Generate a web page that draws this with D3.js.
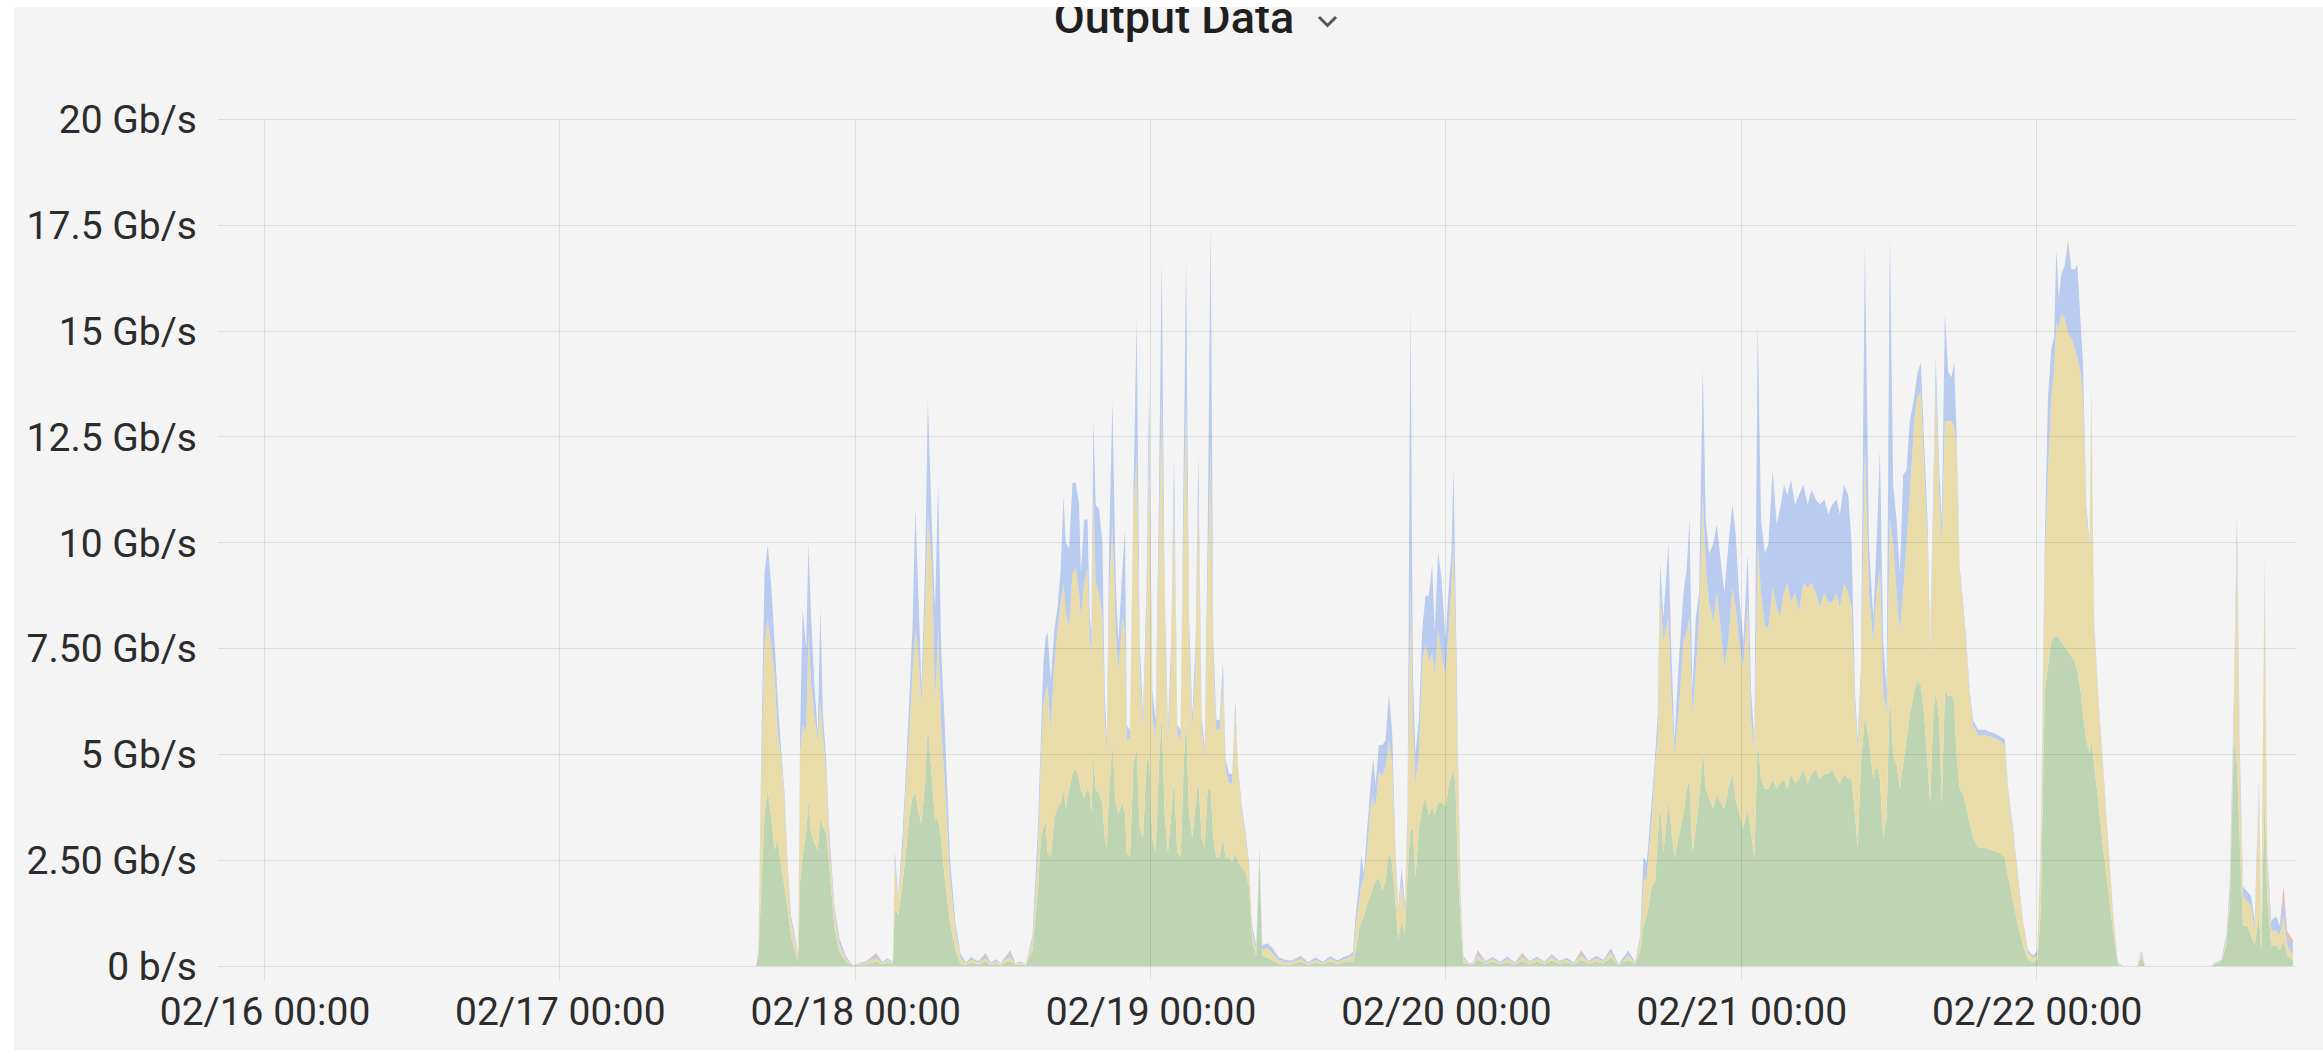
<!DOCTYPE html>
<html><head><meta charset="utf-8">
<script src="https://cdn.jsdelivr.net/npm/d3@7"></script>
<style>
html,body{margin:0;padding:0;background:#ffffff;}
svg{display:block;}
</style></head>
<body>
<svg id="chart" width="2323" height="1060"></svg>
<script>
// ---------------- DATA (hours since 02/16 00:00, values in Gb/s) ----------------
const title = "Output Data";
const seriesNames = ["green", "yellow", "blue", "orange"];
const yTickValues = [0, 2.5, 5, 7.5, 10, 12.5, 15, 17.5, 20];
const yTickLabels = ["0 b/s", "2.50 Gb/s", "5 Gb/s", "7.50 Gb/s", "10 Gb/s", "12.5 Gb/s", "15 Gb/s", "17.5 Gb/s", "20 Gb/s"];
const xTickHours = [0, 24, 48, 72, 96, 120, 144];
const xTickLabels = ["02/16 00:00", "02/17 00:00", "02/18 00:00", "02/19 00:00", "02/20 00:00", "02/21 00:00", "02/22 00:00"];

const hours = [
  // 02/17 evening
  39.95, 40.14, 40.36, 40.63, 40.89, 41.17, 41.44, 41.70, 41.98, 42.25, 42.52, 42.79, 43.06, 43.33,
  43.41, 43.52, 43.73, 44.01, 44.20, 44.41, 44.68, 44.95, 45.17, 45.36, 45.63, 45.90, 46.31, 46.71, 47.26, 47.79,
  48.9, 49.7, 50.2, 50.6,
  // 02/18 early
  51.06, 51.21, 51.49, 51.85, 52.13, 52.39, 52.65, 52.89, 53.09, 53.38,
  53.67, 53.90, 54.25, 54.48, 54.74, 54.98, 55.27, 55.70, 56.14, 56.57,
  57.0, 57.4, 58.0, 58.6, 59.0, 59.46, 59.8, 60.2, 60.6, 61.0, 61.5, 61.86,
  // 02/18 afternoon - 02/19
  62.40, 62.81, 63.08, 63.27, 63.48, 63.62, 63.89, 64.16, 64.43, 64.70,
  64.92, 65.11, 65.38, 65.65, 65.92, 66.19, 66.33, 66.60, 66.87, 67.06,
  67.19, 67.35, 67.54, 67.81, 68.08, 68.27, 68.44, 68.63, 68.90, 69.17,
  69.38, 69.71, 69.92, 70.06, 70.33, 70.60, 70.87, 71.11, 71.38, 71.66,
  71.87, 72.14, 72.41, 72.68, 72.90, 73.14, 73.41, 73.68, 73.90, 74.17,
  74.44, 74.66, 74.88, 75.12, 75.39, 75.66, 75.88, 76.15, 76.39, 76.63,
  76.88, 77.09, 77.34, 77.61, 77.88, 78.09, 78.37, 78.64, 78.88, 79.12,
  79.39, 79.72, 79.99, 80.26, 80.58, 80.85, 81.07, 81.48, 81.88, 82.42,
  82.97,
  83.5, 84.2, 84.8, 85.4, 86.0, 86.6, 87.2, 87.7, 88.17,
  // 02/19 evening
  88.44, 88.65, 88.92, 89.11, 89.33, 89.60, 89.87, 90.09, 90.28, 90.55,
  90.82, 91.09, 91.36, 91.63, 91.90, 92.12, 92.39, 92.66, 92.88, 93.12,
  93.31, 93.52, 93.80, 94.07, 94.34, 94.61, 94.88, 95.09, 95.36, 95.63,
  95.96, 96.23, 96.45, 96.61, 96.77, 96.99, 97.20, 97.42, 97.85,
  98.2, 98.58, 99.21, 99.8, 100.4, 101.0, 101.6, 102.2, 102.8, 103.4,
  104.0, 104.6, 105.2, 105.8, 106.4, 107.0, 107.6, 108.2, 108.8, 109.4, 110.02,
  // 02/20 afternoon - 02/22
  110.83, 111.37, 111.78, 112.05, 112.32, 112.73, 113.00, 113.21, 113.40, 113.67,
  114.08, 114.29, 114.57, 114.89, 115.30, 115.57, 115.78, 116.03, 116.30, 116.57,
  116.87, 117.11, 117.38, 117.73, 118.00, 118.35, 118.62, 118.95, 119.27, 119.54,
  119.81, 120.17, 120.52, 120.79, 121.06, 121.33, 121.60, 121.92, 122.20, 122.55,
  122.87, 123.14, 123.47, 123.74, 124.04, 124.36, 124.68, 125.04, 125.39, 125.71,
  126.04, 126.39, 126.74, 127.07, 127.39, 127.74, 128.01, 128.34, 128.69, 128.96,
  129.23, 129.45, 129.72, 130.04, 130.37, 130.72, 130.99, 131.26, 131.53, 131.80,
  132.07, 132.34, 132.61, 132.88, 133.15, 133.42, 133.69, 134.05, 134.32, 134.59,
  134.86, 135.13, 135.34, 135.59, 135.80, 136.08, 136.29, 136.54, 136.81, 137.08,
  137.29, 137.48, 137.75, 138.02, 138.29, 138.56, 138.83, 139.24, 139.78, 140.32,
  140.86, 141.41, 141.68, 142.08, 142.49, 142.89, 143.30, 143.71, 144.06, 144.33,
  144.65, 144.92, 145.19, 145.41, 145.60, 145.79, 146.00, 146.28, 146.55, 146.82,
  147.09, 147.30, 147.57, 147.76, 148.03, 148.30, 148.44, 148.66, 148.98, 149.39,
  149.79, 150.20, 150.60, 151.01,
  // 02/22 afternoon
  152.2, 152.5, 152.8, 158.2, 158.46, 159.0, 159.41, 159.68, 160.03, 160.27,
  160.49, 160.76, 161.11, 161.44, 161.71, 162.06, 162.25, 162.52, 162.73, 163.06,
  163.46, 163.74, 164.06, 164.36, 164.82
];

const green = [
  0, 0.3, 1.8, 3.6, 4.16, 3.53, 2.74, 2.98, 2.35, 1.9, 1.3, 0.7, 0.38, 0.1,
  0.5, 2.0, 2.6, 3.14, 3.92, 3.14, 2.9, 2.74, 3.53, 3.3, 3.14, 2.35, 0.9, 0.35, 0.1, 0.02,
  0.05, 0.1, 0.04, 0.08,
  0.05, 1.37, 1.2, 1.96, 2.74, 3.53, 4.0, 4.09, 3.72, 3.35,
  4.35, 5.7, 4.35, 3.45, 3.45, 3.0, 2.09, 1.02, 0.38, 0.05,
  0.03, 0.08, 0.04, 0.1, 0.03, 0.06, 0.02, 0.08, 0.12, 0.03, 0.04, 0.01,
  0.37, 1.64, 3.03, 3.26, 3.38, 2.69, 2.57, 3.5, 3.73, 3.84,
  4.19, 3.73, 4.19, 4.54, 4.65, 4.42, 4.19, 3.96, 4.19, 4.07,
  3.61, 5.0, 4.19, 4.07, 3.84, 3.03, 2.8, 4.19, 5.23, 3.84,
  3.61, 3.84, 3.61, 2.69, 2.57, 4.77, 5.12, 3.26, 3.03, 4.77,
  5.0, 3.03, 2.69, 4.77, 5.93, 3.61, 2.69, 3.61, 4.42, 2.69,
  2.57, 4.54, 5.93, 3.61, 3.03, 3.84, 4.42, 3.03, 2.8, 4.19,
  4.19, 3.03, 2.57, 2.57, 3.03, 2.57, 2.57, 2.45, 2.69, 2.45,
  2.34, 2.22, 1.88, 0.6, 0.25, 2.57, 0.25, 0.2, 0.14, 0.05,
  0.02,
  0.05, 0.1, 0.03, 0.08, 0.04, 0.1, 0.05, 0.09, 0.12,
  0.07, 0.33, 0.85, 1.06, 1.16, 1.48, 1.68, 1.89, 2.0, 2.1,
  1.79, 2.0, 2.72, 2.41, 1.48, 0.64, 1.06, 0.75, 2.2, 3.24,
  3.24, 2.1, 3.24, 3.76, 3.97, 3.56, 3.76, 3.56, 3.87, 3.87,
  3.76, 4.28, 4.49, 4.7, 4.28, 2.2, 0.96, 0.07, 0.04,
  0.03, 0.15, 0.05, 0.1, 0.04, 0.09, 0.03, 0.12, 0.05, 0.1,
  0.04, 0.13, 0.05, 0.08, 0.04, 0.14, 0.05, 0.1, 0.06, 0.2, 0.02,
  0.14, 0.04, 0.37, 0.95, 1.18, 1.88, 1.99, 3.03, 3.84, 2.69,
  3.96, 3.26, 2.57, 3.03, 3.61, 4.19, 4.42, 2.69, 3.26, 3.96,
  5.12, 4.19, 3.96, 3.73, 4.07, 3.84, 3.73, 4.19, 4.54, 3.96,
  3.61, 3.26, 3.73, 3.15, 2.57, 5.35, 4.42, 4.19, 4.19, 4.42,
  4.19, 4.31, 4.42, 4.19, 4.54, 4.31, 4.42, 4.65, 4.31, 4.54,
  4.65, 4.42, 4.54, 4.54, 4.65, 4.42, 4.31, 4.54, 4.42, 4.42,
  3.61, 2.8, 4.77, 5.93, 5.35, 4.42, 4.77, 4.42, 3.03, 3.5,
  6.5, 5.0, 4.77, 4.19, 4.77, 5.35, 5.93, 6.5, 6.74, 6.62,
  5.93, 4.77, 3.84, 5.93, 6.5, 5.81, 3.84, 6.5, 6.39, 6.39,
  6.27, 5.0, 4.19, 4.07, 3.73, 3.38, 3.03, 2.8, 2.8, 2.74,
  2.69, 2.57, 2.11, 1.53, 0.95, 0.49, 0.14, 0.08, 0.14, 1.3,
  6.5, 7.08, 7.66, 7.78, 7.78, 7.78, 7.66, 7.55, 7.43, 7.31,
  7.2, 6.97, 6.5, 5.93, 5.35, 5.0, 5.35, 4.77, 3.96, 2.8,
  1.88, 0.83, 0.02, 0,
  0, 0.2, 0, 0, 0.05, 0.1, 0.49, 1.41, 5.35, 4.77,
  3.03, 0.95, 0.95, 0.72, 0.49, 1.18, 0.37, 4.19, 1.64, 0.49,
  0.49, 0.37, 0.6, 0.25, 0.14
];

const yellow = [
  0, 0.1, 2.7, 4.0, 4.01, 4.07, 4.16, 2.52, 2.55, 2.0, 0.9, 0.35, 0.27, 0.12,
  1.0, 3.0, 3.1, 2.36, 3.94, 3.54, 2.99, 2.6, 2.75, 2.2, 1.46, 0.5, 0.35, 0.15, 0.06, 0,
  0.03, 0.08, 0.03, 0.06,
  0.03, 1.09, 0.35, 0.78, 1.58, 1.97, 2.9, 3.88, 3.78, 2.82,
  4.07, 4.98, 4.98, 2.72, 4.52, 2.7, 2.26, 1.07, 0.45, 0.14,
  0.03, 0.07, 0.04, 0.08, 0.03, 0.05, 0.02, 0.07, 0.1, 0.02, 0.04, 0.01,
  0.23, 0.81, 1.74, 2.9, 3.12, 3.93, 3.01, 3.58, 4.17, 4.76,
  4.86, 4.63, 3.81, 4.74, 4.75, 4.4, 4.05, 5.09, 5.21, 3.59,
  3.82, 6.13, 4.86, 4.75, 4.4, 2.9, 2.2, 4.63, 5.21, 4.06,
  3.36, 4.4, 4.29, 2.66, 2.78, 5.9, 6.94, 3.82, 2.55, 3.47,
  7.29, 2.9, 2.66, 5.21, 7.52, 4.63, 2.66, 3.47, 6.71, 2.77,
  2.78, 5.44, 7.52, 4.05, 2.55, 3.24, 6.71, 2.55, 2.08, 4.63,
  8.1, 4.05, 3.01, 3.01, 3.71, 2.08, 1.74, 1.86, 3.35, 2.09,
  1.39, 0.81, 0.46, 0.23, 0.12, 0.12, 0.12, 0.23, 0.17, 0.09,
  0.06,
  0.04, 0.06, 0.03, 0.06, 0.03, 0.08, 0.04, 0.07, 0.08,
  0.16, 0.52, 0.63, 0.83, 0.94, 1.24, 2.08, 2.08, 1.76, 2.49,
  2.7, 2.7, 2.6, 2.39, 0.93, 0.63, 0.94, 0.52, 1.25, 5.72,
  2.6, 2.18, 1.77, 3.43, 3.64, 3.63, 3.64, 3.32, 4.05, 3.53,
  3.12, 3.64, 4.47, 5.3, 3.64, 2.08, 0.52, 0.11, 0.02,
  0.02, 0.1, 0.03, 0.06, 0.03, 0.07, 0.03, 0.08, 0.04, 0.07,
  0.03, 0.08, 0.04, 0.06, 0.03, 0.1, 0.04, 0.08, 0.05, 0.12, 0.01,
  0.11, 0.02, 0.23, 1.04, 0.92, 1.62, 2.78, 2.32, 4.98, 4.97,
  4.28, 3.24, 2.43, 2.9, 4.05, 3.71, 3.82, 3.24, 3.71, 4.28,
  6.01, 5.21, 4.63, 4.39, 4.75, 4.06, 3.35, 3.47, 4.4, 4.51,
  4.05, 3.82, 4.86, 2.66, 2.55, 4.63, 4.4, 3.81, 3.81, 4.52,
  4.28, 3.93, 4.4, 4.86, 4.05, 4.51, 3.94, 4.4, 4.63, 4.51,
  4.17, 4.05, 4.28, 4.05, 3.94, 4.4, 4.16, 4.51, 4.4, 4.05,
  2.55, 2.32, 1.97, 6.36, 3.47, 3.24, 4.05, 4.98, 3.47, 2.43,
  4.06, 4.98, 4.05, 3.71, 4.05, 4.63, 5.2, 6.37, 6.71, 6.94,
  5.78, 5.21, 3.59, 4.63, 7.3, 5.32, 6.14, 6.37, 6.48, 6.48,
  6.48, 7.29, 5.09, 4.4, 3.82, 3.01, 2.66, 2.66, 2.66, 2.67,
  2.66, 2.66, 1.96, 1.62, 1.04, 0.51, 0.17, 0.12, 0.11, 1.5,
  2.9, 4.63, 5.79, 6.25, 7.41, 7.29, 7.76, 7.75, 7.52, 7.53,
  7.41, 7.41, 7.53, 7.52, 5.32, 4.86, 8.1, 3.35, 2.43, 1.85,
  1.04, 0.41, 0.04, 0,
  0, 0.1, 0, 0, 0.02, 0.02, 0.11, 0.23, 0.58, 5.21,
  1.74, 0.69, 0.58, 0.69, 0.34, 3.01, 0.35, 5.09, 0.81, 0.34,
  0.34, 0.35, 0.58, 0.24, 0.11
];

const blue = [
  0, 0.05, 0.5, 1.7, 1.78, 1.4, 0.8, 0.8, 0.2, 0.2, 0.15, 0.12, 0.13, 0.08,
  0.1, 0.5, 2.75, 2.0, 2.09, 1.57, 0.79, 0.16, 2.21, 0.5, 0.3, 0.3, 0.15, 0.15, 0.06, 0,
  0.04, 0.07, 0.03, 0.04,
  0.02, 0.26, 0.09, 0.4, 0.39, 0.78, 1.1, 2.85, 1.64, 0.43,
  0.91, 2.67, 0.9, 2.25, 3.43, 1.81, 1.35, 0.46, 0.19, 0.09,
  0.02, 0.06, 0.03, 0.08, 0.02, 0.05, 0.02, 0.06, 0.1, 0.02, 0.03, 0.01,
  0.12, 0.58, 0.58, 0.92, 1.28, 1.28, 1.16, 0.82, 0.57, 0.8,
  2.05, 1.64, 1.86, 2.14, 2.02, 2.08, 1.04, 1.5, 1.15, 0.58,
  0.47, 1.8, 1.85, 1.98, 1.76, 0.57, 0.35, 1.18, 2.89, 1.15,
  0.69, 1.16, 2.42, 0.34, 0.23, 0.46, 3.24, 0.58, 0.35, 0.58,
  1.39, 0.57, 0.46, 1.15, 3.24, 0.58, 0.34, 0.58, 0.93, 0.23,
  0.23, 1.15, 3.24, 0.58, 0.35, 0.58, 0.93, 0.35, 0.24, 1.16,
  5.27, 0.58, 0.23, 0.23, 0.46, 0.23, 0.23, 0.23, 0.23, 0.11,
  0.11, 0.12, 0.11, 0.12, 0.12, 0.11, 0.12, 0.11, 0.12, 0.06,
  0.06,
  0.04, 0.05, 0.03, 0.06, 0.03, 0.05, 0.04, 0.05, 0.06,
  0.1, 0.31, 0.41, 0.73, 0.1, 0.52, 0.52, 0.94, 0.52, 0.63,
  0.73, 0.62, 1.09, 0.73, 0.31, 0.1, 0.31, 0.21, 0.31, 6.76,
  1.04, 0.73, 0.83, 0.73, 1.14, 1.56, 2.08, 1.04, 1.87, 1.77,
  0.83, 1.04, 0.83, 1.77, 1.04, 0.52, 0.2, 0.05, 0.01,
  0.02, 0.08, 0.03, 0.05, 0.03, 0.06, 0.02, 0.06, 0.03, 0.05,
  0.03, 0.07, 0.03, 0.05, 0.02, 0.08, 0.03, 0.06, 0.04, 0.1, 0.01,
  0.12, 0.02, 0.12, 0.58, 0.35, 0.46, 0.23, 0.58, 0.69, 0.58,
  1.74, 1.16, 0.35, 1.15, 1.16, 1.5, 2.31, 0.57, 1.27, 0.58,
  3.01, 1.15, 1.15, 1.86, 1.62, 1.61, 1.74, 2.32, 1.96, 1.73,
  1.16, 0.58, 1.15, 0.69, 0.23, 5.21, 1.73, 1.74, 1.98, 2.77,
  1.97, 2.55, 2.55, 2.08, 2.89, 2.08, 2.77, 2.32, 1.96, 2.2,
  2.2, 2.43, 2.2, 2.08, 2.31, 2.2, 2.2, 2.32, 2.31, 1.51,
  0.34, 0.23, 0.34, 4.75, 1.16, 0.58, 1.16, 2.78, 1.16, 0.57,
  6.71, 1.39, 1.73, 1.38, 2.78, 1.73, 1.74, 0.58, 0.58, 0.7,
  0.58, 0.57, 0.23, 0.57, 0.58, 0.58, 0.57, 2.55, 1.16, 1.04,
  1.51, 0.35, 0.12, 0.12, 0.11, 0.11, 0.12, 0.12, 0.12, 0.11,
  0.11, 0.12, 0.12, 0.11, 0.12, 0.06, 0.06, 0.05, 0.12, 0.23,
  0.58, 1.74, 1.15, 0.81, 1.73, 0.7, 0.92, 1.27, 2.09, 1.62,
  1.85, 2.19, 1.16, 0.81, 0.23, 0.12, 0.25, 0.12, 0.11, 0.12,
  0.11, 0.06, 0.02, 0,
  0, 0.07, 0, 0, 0.01, 0.02, 0.12, 0.24, 0.57, 0.69,
  0.58, 0.24, 0.23, 0.23, 0.23, 0.23, 0.23, 0.35, 0.24, 0.23,
  0.35, 0.23, 0.46, 0.23, 0.24
];

// small fourth series, only where it is visible (zero elsewhere)
const orangeHours  = [44.20, 49.7, 58.6, 60.6, 84.2, 98.58, 102.2, 107.0, 146.55, 164.06, 164.36, 164.82];
const orangeValues = [0.05, 0.05, 0.05, 0.05, 0.04, 0.05, 0.04, 0.05, 0.12, 0.25, 0.1, 0.12];

// ---------------- RENDER ----------------
if (green.length !== hours.length || yellow.length !== hours.length || blue.length !== hours.length) {
  throw new Error("length mismatch " + hours.length + " " + green.length + " " + yellow.length + " " + blue.length);
}
const W = 2323, H = 1060;
const plotLeft = 218, plotRight = 2296, plotTop = 119.5, plotBottom = 966;
const base = Date.UTC(2021, 1, 16, 0, 0);
const hourMs = 3600e3;
const toDate = h => new Date(base + h * hourMs);

const orangeMap = new Map(orangeHours.map((h, i) => [h, orangeValues[i]]));
const rows = hours.map((h, i) => ({
  t: toDate(h), green: green[i], yellow: yellow[i], blue: blue[i], orange: orangeMap.get(h) || 0
}));

const colors = { green: "#bed5b4", yellow: "#e9dca9", blue: "#b9cbee", orange: "#efb9a2" };

const svg = d3.select("#chart");
svg.append("rect").attr("x", 14).attr("y", 7).attr("width", W - 14).attr("height", 1043).attr("fill", "#f4f4f4");

const x = d3.scaleUtc().domain([toDate(-3.78), toDate(165.07)]).range([plotLeft, plotRight]);
const y = d3.scaleLinear().domain([0, 20]).range([plotBottom, plotTop]);

const stack = d3.stack().keys(seriesNames).order(d3.stackOrderNone).offset(d3.stackOffsetNone);
const layers = stack(rows);

svg.append("clipPath").attr("id", "clip").append("rect")
  .attr("x", plotLeft).attr("y", plotTop - 5).attr("width", plotRight - plotLeft).attr("height", plotBottom - plotTop + 5);

const area = d3.area().x(d => x(d.data.t)).y0(d => y(d[0])).y1(d => y(d[1])).curve(d3.curveLinear);
svg.append("g").attr("clip-path", "url(#clip)")
  .selectAll("path").data(layers).join("path")
  .attr("d", area).attr("fill", d => colors[d.key]);

// grid (drawn over the fills, semi-transparent like the original)
const grid = svg.append("g").attr("shape-rendering", "crispEdges");
grid.selectAll("line.h").data(yTickValues).join("line").attr("class", "h")
  .attr("x1", plotLeft).attr("x2", plotRight)
  .attr("y1", d => y(d)).attr("y2", d => y(d))
  .attr("stroke", "rgba(0,0,0,0.09)").attr("stroke-width", 1);
grid.selectAll("line.v").data(xTickHours).join("line").attr("class", "v")
  .attr("x1", d => x(toDate(d))).attr("x2", d => x(toDate(d)))
  .attr("y1", plotTop).attr("y2", 980)
  .attr("stroke", "rgba(0,0,0,0.09)").attr("stroke-width", 1);

// axes
const yAxis = d3.axisLeft(y).tickValues(yTickValues).tickFormat((d, i) => yTickLabels[i]).tickSize(0).tickPadding(21);
const gy = svg.append("g").attr("transform", `translate(${plotLeft},0)`).call(yAxis);
gy.select(".domain").remove();
gy.selectAll("text").attr("font-family", "Roboto").attr("font-size", 39).attr("fill", "#2c2c2c").attr("dy", "0.34em");

const xAxis = d3.axisBottom(x).tickValues(xTickHours.map(toDate)).tickFormat((d, i) => xTickLabels[i]).tickSize(0).tickPadding(31);
const gx = svg.append("g").attr("transform", `translate(0,${plotBottom})`).call(xAxis);
gx.select(".domain").remove();
gx.selectAll("text").attr("font-family", "Roboto").attr("font-size", 39).attr("fill", "#2c2c2c");

// title (its top is cut by the white strip, as in the original)
svg.append("text").attr("x", 1174).attr("y", 33).attr("text-anchor", "middle")
  .attr("font-family", "Roboto").attr("font-weight", 500).attr("font-size", 45).attr("fill", "#1f1f1f")
  .text(title);
svg.append("path").attr("d", "M1319,17 L1327.5,25.5 L1336,17")
  .attr("fill", "none").attr("stroke", "#555").attr("stroke-width", 3);
svg.append("rect").attr("x", 0).attr("y", 0).attr("width", W).attr("height", 7).attr("fill", "#ffffff");
</script>
</body></html>
